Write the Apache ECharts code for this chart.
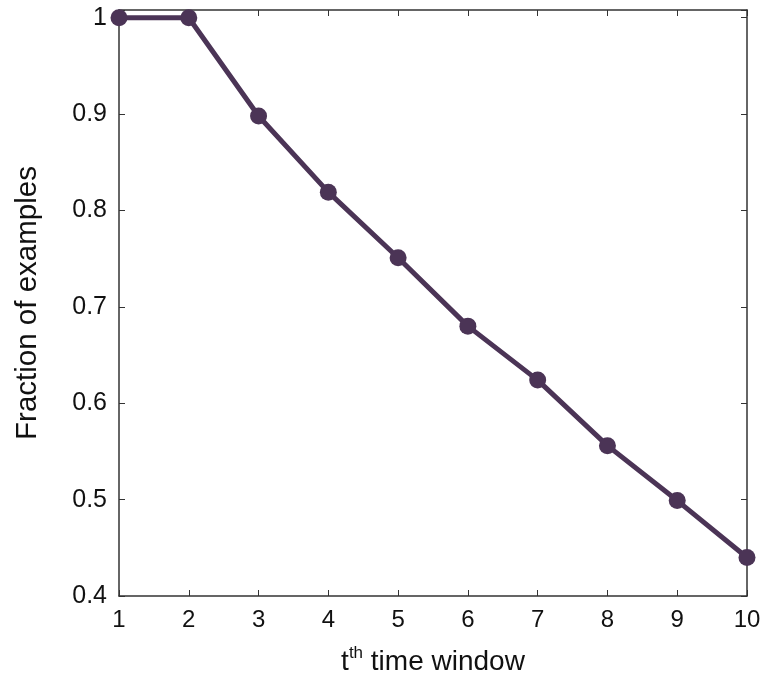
<!DOCTYPE html>
<html>
<head>
<meta charset="utf-8">
<script src="https://cdn.jsdelivr.net/npm/echarts@6/dist/echarts.min.js"></script>
<style>html,body{margin:0;padding:0;background:#fff}#c{width:768px;height:683px}</style>
</head>
<body>
<div id="c"></div>
<script>
const xValues = [1, 2, 3, 4, 5, 6, 7, 8, 9, 10];
const fractions = [1.0, 1.0, 0.898, 0.819, 0.751, 0.680, 0.624, 0.556, 0.499, 0.440];
const xTitle = 't^th time window';
const yTitle = 'Fraction of examples';

const chart = echarts.init(document.getElementById('c'), null, {renderer: 'canvas'});
const font = '"Liberation Sans", Arial, sans-serif';
const lineCol = '#333';
const mark = '#4b3456';
const axisCommon = {
  axisLine: {show: true, onZero: false, lineStyle: {color: lineCol, width: 1.5}},
  axisTick: {show: true, inside: true, length: 6, lineStyle: {color: lineCol, width: 1}},
  splitLine: {show: false}
};
chart.setOption({
  animation: false,
  grid: {left: 119, right: 21, top: 10, bottom: 87, containLabel: false},
  xAxis: [
    Object.assign({type: 'value', min: 1, max: 10, interval: 1, position: 'bottom',
      axisLabel: {color: '#111', fontSize: 24, fontFamily: font, margin: 12},
      name: '{t|t}{s|th}{t| time window}', nameLocation: 'middle', nameGap: 49,
      nameTextStyle: {rich: {
        t: {fontSize: 28, fontFamily: font, color: '#111', verticalAlign: 'bottom'},
        s: {fontSize: 17, fontFamily: font, color: '#111', verticalAlign: 'top', padding: [0, 0, 14, 0]}
      }}
    }, axisCommon),
    Object.assign({type: 'value', min: 1, max: 10, interval: 1, position: 'top',
      axisLabel: {show: false}}, axisCommon)
  ],
  yAxis: [
    Object.assign({type: 'value', min: 0.4, max: 1.008, interval: 0.1, position: 'left',
      axisLabel: {color: '#111', fontSize: 25, fontFamily: font, margin: 12,
        formatter: v => {
          const r = Math.round(v * 10) / 10;
          if (Math.abs(v - r) > 1e-6) return '';
          return r === 1 ? '1' : r.toFixed(1);
        }},
      name: yTitle, nameLocation: 'middle', nameGap: 76,
      nameTextStyle: {fontSize: 29.5, fontFamily: font, color: '#111'}
    }, axisCommon),
    Object.assign({type: 'value', min: 0.4, max: 1.008, interval: 0.1, position: 'right',
      axisLabel: {show: false}}, axisCommon)
  ],
  series: [{
    type: 'line',
    data: xValues.map((x, i) => [x, fractions[i]]),
    symbol: 'circle', symbolSize: 17,
    lineStyle: {color: mark, width: 5},
    itemStyle: {color: mark},
    clip: false,
    z: 5
  }]
});
</script>
</body>
</html>
